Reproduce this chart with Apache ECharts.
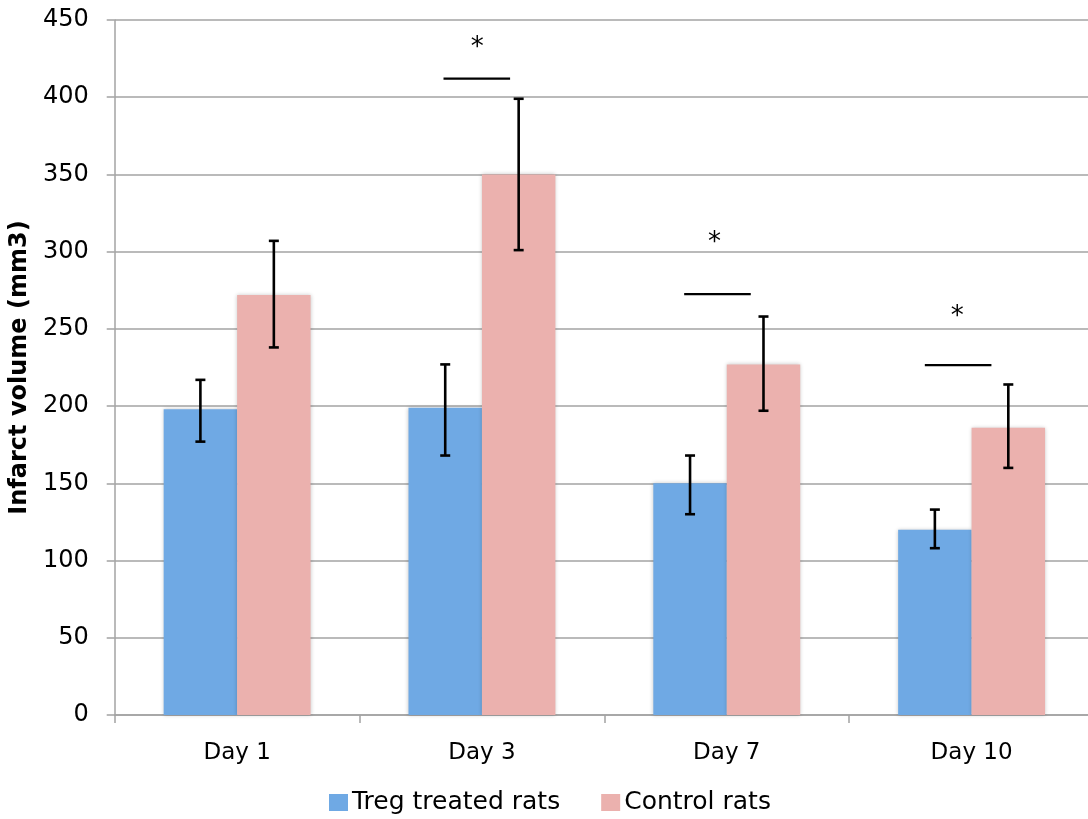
<!DOCTYPE html>
<html>
<head>
<meta charset="utf-8">
<script src="https://cdn.jsdelivr.net/npm/echarts@6/dist/echarts.min.js"></script>
<style>
html,body{margin:0;padding:0;background:#fff;overflow:hidden;width:1088px;height:819px;}
#chart{width:1100px;height:819px;}
</style>
</head>
<body>
<div id="chart"></div>
<script>
const categories = ['Day 1', 'Day 3', 'Day 7', 'Day 10'];
const seriesNames = ['Treg treated rats', 'Control rats'];
const tregValues = [198, 199, 150, 120];
const controlValues = [272, 350, 227, 186];
const tregErrLow = [177, 168, 130, 108];
const tregErrHigh = [217, 227, 168, 133];
const controlErrLow = [238, 301, 197, 160];
const controlErrHigh = [307, 399, 258, 214];
const yMin = 0, yMax = 450, yStep = 50;
const yAxisTitle = 'Infarct volume (mm3)';
// significance annotations, x in category units from the left edge of the axis
const sigLineX = [1.479, 2.462, 3.445];
const sigLineY = [412, 272.5, 226.5];
const sigStarX = [1.481, 2.450, 3.441];
const sigStarY = [434, 308, 260];
const sigMark = ['*', '*', '*'];

const FONT = 'DejaVu Sans';
const BLUE = '#6fa9e4';
const PINK = '#ebb1ae';
const GRID_GRAY = '#a3a3a3';

function errData(low, high) {
  return categories.map((c, i) => [i, low[i], high[i]]);
}
function errRender(offset) {
  return function (params, api) {
    const lo = api.coord([api.value(0), api.value(1)]);
    const hi = api.coord([api.value(0), api.value(2)]);
    const band = api.size([1, 0])[0];
    const x = lo[0] + offset * band;
    const cap = 5;
    const st = { stroke: '#000', lineWidth: 2.6 };
    return {
      type: 'group',
      children: [
        { type: 'line', shape: { x1: x, y1: hi[1], x2: x, y2: lo[1] }, style: st },
        { type: 'line', shape: { x1: x - cap, y1: hi[1], x2: x + cap, y2: hi[1] }, style: st },
        { type: 'line', shape: { x1: x - cap, y1: lo[1], x2: x + cap, y2: lo[1] }, style: st }
      ]
    };
  };
}

const chart = echarts.init(document.getElementById('chart'), null, { renderer: 'canvas', width: 1100, height: 819 });
chart.setOption({
  animation: false,
  backgroundColor: '#fff',
  textStyle: { fontFamily: FONT },
  grid: { left: 114, right: 6, top: 20, bottom: 104, containLabel: false },
  legend: {
    data: seriesNames,
    left: 324,
    top: 785,
    icon: 'rect',
    itemWidth: 19,
    itemHeight: 17,
    itemGap: 41,
    textStyle: { fontFamily: FONT, fontSize: 25, color: '#000', padding: [0, 0, 0, -1] }
  },
  xAxis: [
    {
      type: 'category',
      data: categories,
      axisLine: { show: true, lineStyle: { color: GRID_GRAY, width: 1.5 } },
      axisTick: { show: true, length: 8, alignWithLabel: false, lineStyle: { color: GRID_GRAY, width: 1.5 } },
      axisLabel: { fontFamily: FONT, fontSize: 23, color: '#000', margin: 27 },
      splitLine: { show: false }
    },
    {
      type: 'value',
      min: 0,
      max: 4,
      show: false
    }
  ],
  yAxis: {
    type: 'value',
    min: yMin,
    max: yMax,
    interval: yStep,
    name: yAxisTitle,
    nameLocation: 'middle',
    nameGap: 76,
    nameTextStyle: { fontFamily: FONT, fontSize: 24, fontWeight: 'bold', color: '#000' },
    axisLine: { show: true, lineStyle: { color: GRID_GRAY, width: 1.5 } },
    axisTick: { show: true, length: 8, lineStyle: { color: GRID_GRAY, width: 1.5 } },
    axisLabel: { fontFamily: FONT, fontSize: 24, color: '#000', margin: 26 },
    splitLine: { show: true, lineStyle: { color: GRID_GRAY, width: 1.5 } }
  },
  series: [
    {
      name: seriesNames[0],
      type: 'bar',
      data: tregValues,
      barCategoryGap: '40%',
      barGap: '0%',
      itemStyle: { color: BLUE, shadowBlur: 4, shadowColor: 'rgba(0,0,0,0.22)' },
      z: 2
    },
    {
      name: seriesNames[1],
      type: 'bar',
      data: controlValues,
      barCategoryGap: '40%',
      barGap: '0%',
      itemStyle: { color: PINK, shadowBlur: 4, shadowColor: 'rgba(0,0,0,0.22)' },
      z: 2
    },
    {
      type: 'custom',
      renderItem: errRender(-0.15),
      data: errData(tregErrLow, tregErrHigh),
      encode: { x: 0, y: [1, 2] },
      z: 5,
      silent: true
    },
    {
      type: 'custom',
      renderItem: errRender(0.15),
      data: errData(controlErrLow, controlErrHigh),
      encode: { x: 0, y: [1, 2] },
      z: 5,
      silent: true
    },
    {
      type: 'custom',
      xAxisIndex: 1,
      data: sigLineX.map((x, i) => [x, sigLineY[i]]),
      encode: { x: 0, y: 1 },
      z: 5,
      silent: true,
      renderItem: function (params, api) {
        const half = 0.136;
        const a = api.coord([api.value(0) - half, api.value(1)]);
        const b = api.coord([api.value(0) + half, api.value(1)]);
        return { type: 'line', shape: { x1: a[0], y1: a[1], x2: b[0], y2: b[1] }, style: { stroke: '#000', lineWidth: 2.2 } };
      }
    },
    {
      type: 'custom',
      xAxisIndex: 1,
      data: sigStarX.map((x, i) => [x, sigStarY[i], i]),
      encode: { x: 0, y: 1 },
      z: 5,
      silent: true,
      renderItem: function (params, api) {
        const p = api.coord([api.value(0), api.value(1)]);
        return {
          type: 'text',
          x: p[0], y: p[1] + 4,
          style: { text: sigMark[api.value(2)], fill: '#000', font: '26px "' + FONT + '"', align: 'center', verticalAlign: 'middle' }
        };
      }
    }
  ]
});
</script>
</body>
</html>
